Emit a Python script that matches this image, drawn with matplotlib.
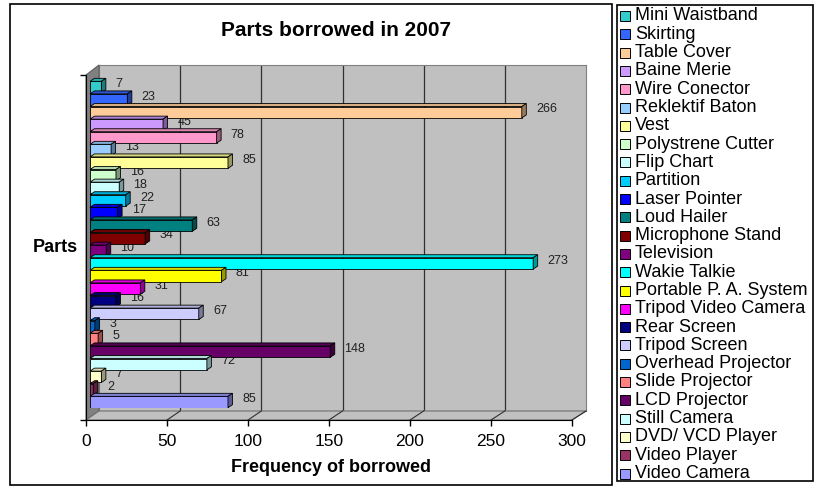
import numpy as np
import matplotlib
matplotlib.use("Agg")
import matplotlib.pyplot as plt
from matplotlib.patches import Polygon, Rectangle
from matplotlib.colors import to_rgb

plt.rcParams['font.family'] = ['Liberation Sans', 'DejaVu Sans']

# data, top bar first (same order as the legend)
parts = ["Mini Waistband", "Skirting", "Table Cover", "Baine Merie", "Wire Conector",
         "Reklektif Baton", "Vest", "Polystrene Cutter", "Flip Chart", "Partition",
         "Laser Pointer", "Loud Hailer", "Microphone Stand", "Television", "Wakie Talkie",
         "Portable P. A. System", "Tripod Video Camera", "Rear Screen", "Tripod Screen",
         "Overhead Projector", "Slide Projector", "LCD Projector", "Still Camera",
         "DVD/ VCD Player", "Video Player", "Video Camera"]
borrowed = [7, 23, 266, 45, 78, 13, 85, 16, 18, 22, 17, 63, 34, 10, 273,
            81, 31, 16, 67, 3, 5, 148, 72, 7, 2, 85]
colors = ["#33CCCC", "#3366FF", "#FFCC99", "#CC99FF", "#FF99CC", "#99CCFF", "#FFFF99",
          "#CCFFCC", "#CCFFFF", "#00CCFF", "#0000FF", "#008080", "#800000", "#800080",
          "#00FFFF", "#FFFF00", "#FF00FF", "#000080", "#CCCCFF", "#0066CC", "#FF8080",
          "#660066", "#CCFFFF", "#FFFFCC", "#993366", "#9999FF"]
xticks = [0, 50, 100, 150, 200, 250, 300]

W, H = 815, 488


def rect(l, t, r, b):
    return [l / W, 1 - b / H, (r - l) / W, (b - t) / H]


def pts(xy):
    return [(x / W, 1 - y / H) for x, y in xy]


def shade(c, f):
    return tuple(v * f for v in to_rgb(c))


fig = plt.figure(figsize=(8.15, 4.88), dpi=100)

# chart area frame
fig.add_artist(Rectangle((10 / W, 1 - 485 / H), 602 / W, 481 / H, transform=fig.transFigure,
                         fill=False, edgecolor="black", lw=1.2, zorder=1))

# back wall with gridlines
ax_wall = fig.add_axes(rect(99, 65, 586, 411), zorder=0)
ax_wall.set_facecolor("#C0C0C0")
ax_wall.set_xlim(0, 300)
ax_wall.set_xticks(xticks[1:-1])
ax_wall.grid(True, axis="x", color="#303030", lw=0.9)
ax_wall.tick_params(length=0, labelbottom=False, labelleft=False)
ax_wall.set_yticks([])
for s in ax_wall.spines.values():
    s.set_color("#808080")

# side wall + floor (between the wall and the front axes)
fig.add_artist(Polygon(pts([(86, 75), (99, 65), (99, 411), (86, 420)]), transform=fig.transFigure,
                       facecolor="#808080", edgecolor="#606060", lw=0.8, zorder=1))
fig.add_artist(Polygon(pts([(86, 420), (99, 411), (586, 411), (572, 420)]), transform=fig.transFigure,
                       facecolor="#C0C0C0", edgecolor="#707070", lw=0.8, zorder=1))
for v in xticks[1:]:
    fx0 = 86 + v * (572 - 86) / 300
    bx0 = 99 + v * (586 - 99) / 300
    fig.add_artist(plt.Line2D([fx0 / W, bx0 / W], [1 - 420 / H, 1 - 411 / H],
                              transform=fig.transFigure, color="#303030", lw=0.8, zorder=1))

# front axis with ticks
ax_front = fig.add_axes(rect(86, 75, 572, 420), zorder=2)
ax_front.patch.set_visible(False)
ax_front.set_xlim(0, 300)
ax_front.set_ylim(0, 1)
ax_front.set_xticks(xticks)
ax_front.set_yticks([0, 1])
ax_front.set_yticklabels([])
ax_front.tick_params(direction="out", length=4, width=1, labelsize=12.5, pad=6)
ax_front.spines["top"].set_visible(False)
ax_front.spines["right"].set_visible(False)

# 3d-ish bars
ax = fig.add_axes(rect(90, 80.7, 577, 408.3), zorder=3)
ax.set_xlim(0, 300)
ax.set_ylim(len(parts) - 0.5, -0.5)
ax.axis("off")

h = 0.9
dx = 4.5 * 300 / (577 - 90)
dy = 3.0 * len(parts) / (408.3 - 80.7)
for i, (v, c) in enumerate(zip(borrowed, colors)):
    z = 3 + i
    ax.barh(i, v, height=h, color=c, edgecolor="black", lw=0.6, zorder=z)
    top = i - h / 2
    bot = i + h / 2
    ax.add_patch(Polygon([(0, top), (v, top), (v + dx, top - dy), (dx, top - dy)],
                         facecolor=shade(c, 0.85), edgecolor="black", lw=0.6, zorder=z, clip_on=False))
    ax.add_patch(Polygon([(v, top), (v + dx, top - dy), (v + dx, bot - dy), (v, bot)],
                         facecolor=shade(c, 0.6), edgecolor="black", lw=0.6, zorder=z, clip_on=False))
    ax.annotate(str(v), xy=(v + dx, i), xytext=(7, 2), textcoords="offset points",
                ha="left", va="center", fontsize=9, color="#202020", annotation_clip=False)

fig.text(336 / W, 1 - 31 / H, "Parts borrowed in 2007", ha="center", va="center",
         fontsize=15, fontweight="bold")
fig.text(331 / W, 1 - 467 / H, "Frequency of borrowed", ha="center", va="center",
         fontsize=13, fontweight="bold")
fig.text(55 / W, 1 - 248 / H, "Parts", ha="center", va="center", fontsize=13, fontweight="bold")

# legend box
fig.add_artist(Rectangle((617 / W, 1 - 481 / H), 196 / W, 476 / H, transform=fig.transFigure,
                         fill=False, edgecolor="black", lw=1.2, zorder=1))
for k, (name, c) in enumerate(zip(parts, colors)):
    yc = 16 + 18.3 * k
    fig.add_artist(Rectangle((619.5 / W, 1 - (yc + 5) / H), 10 / W, 10 / H, transform=fig.transFigure,
                             facecolor=c, edgecolor="black", lw=0.7, zorder=1))
    fig.text(635 / W, 1 - yc / H, name, ha="left", va="center", fontsize=13)

fig.savefig("out.png", dpi=100)
